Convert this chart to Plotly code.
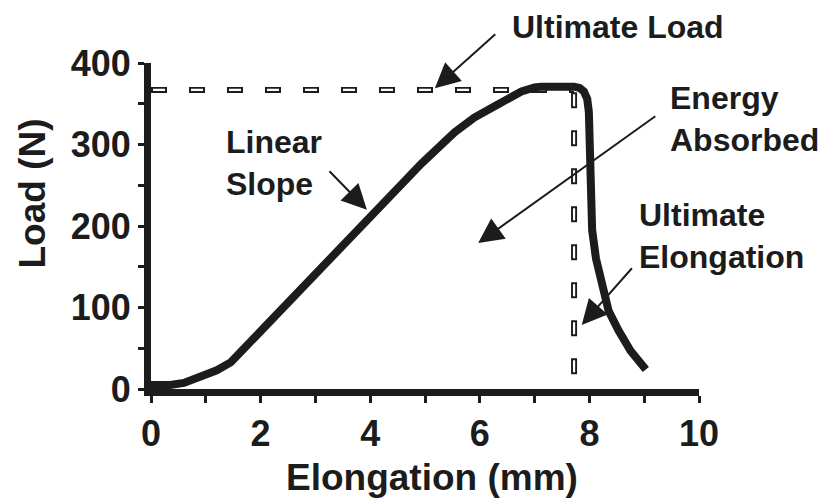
import plotly.graph_objects as go

# ---- data ----
elongation_mm = [0, 0.35, 0.6, 0.9, 1.2, 1.46, 2.58, 3.49, 4.58, 4.94, 5.54, 5.9, 6.27, 6.5,
                 6.76, 7.0, 7.12, 7.72, 7.82, 7.9, 7.96, 7.99, 8.0, 8.02, 8.05, 8.12, 8.25,
                 8.35, 8.53, 8.75, 9.03]
load_n = [5, 5, 7.5, 14, 23, 33, 112, 178, 254, 277, 315, 333, 347, 356,
          365, 370, 371, 371, 369.5, 365, 356, 340, 300, 230, 195, 160, 120,
          96, 72, 47, 24]
ultimate_load = 367
ultimate_elong = 7.72

x_ticks = [0, 2, 4, 6, 8, 10]
y_ticks = [0, 100, 200, 300, 400]

# annotation labels in data coords: (text, x, y)
labels = [
    ("Linear<br>Slope", 1.33, 277),
    ("Energy<br>Absorbed", 9.43, 331),
    ("Ultimate<br>Elongation", 8.87, 188),
]
# label above the plotting area, in paper coords: (text, x, y)
top_labels = [("Ultimate Load", 0.655, 1.11)]
# arrows: (tail_x, tail_y, tip_x, tip_y)
arrows = [
    (6.31, 437, 5.18, 369),
    (3.23, 269, 3.94, 220),
    (9.23, 336, 5.97, 179),
    (8.80, 150, 7.86, 78.5),
]

INK = "#1c1c1c"
FONT = "Liberation Sans, Arial, sans-serif"
ANN_SIZE = 32

fig = go.Figure()

# dashed reference lines drawn as outlined dashes (black dash + white core)
for xs, ys in [([0, ultimate_elong], [ultimate_load, ultimate_load]),
               ([ultimate_elong, ultimate_elong], [ultimate_load - 3, 0])]:
    fig.add_trace(go.Scatter(x=xs, y=ys, mode="lines",
                             line=dict(color=INK, width=6, dash="16px,22px"),
                             hoverinfo="skip", showlegend=False))
    fig.add_trace(go.Scatter(x=xs, y=ys, mode="lines",
                             line=dict(color="white", width=2.2, dash="0px,2px,12px,24px"),
                             hoverinfo="skip", showlegend=False))

# load-elongation curve
fig.add_trace(go.Scatter(x=elongation_mm, y=load_n, mode="lines",
                         line=dict(color=INK, width=8),
                         showlegend=False))

annotations = []
for text, x, y in labels:
    annotations.append(dict(text=text, x=x, y=y, xref="x", yref="y",
                            xanchor="left", yanchor="middle", align="left",
                            showarrow=False,
                            font=dict(family=FONT, size=ANN_SIZE, color=INK, weight="bold")))
for text, x, y in top_labels:
    annotations.append(dict(text=text, x=x, y=y, xref="paper", yref="paper",
                            xanchor="left", yanchor="middle", align="left",
                            showarrow=False,
                            font=dict(family=FONT, size=ANN_SIZE, color=INK, weight="bold")))
for tx, ty, hx, hy in arrows:
    annotations.append(dict(text="", x=hx, y=hy, ax=tx, ay=ty,
                            xref="x", yref="y", axref="x", ayref="y",
                            showarrow=True, arrowhead=2, arrowsize=2.5,
                            arrowwidth=2, arrowcolor=INK))
# axis titles
annotations.append(dict(text="Elongation (mm)", x=0.513, y=-0.273, xref="paper", yref="paper",
                        xanchor="center", yanchor="middle", showarrow=False,
                        font=dict(family=FONT, size=37, color=INK, weight="bold")))
annotations.append(dict(text="Load (N)", x=-0.217, y=0.60, xref="paper", yref="paper",
                        xanchor="center", yanchor="middle", showarrow=False, textangle=-90,
                        font=dict(family=FONT, size=37, color=INK, weight="bold")))

fig.update_layout(
    width=825, height=500,
    margin=dict(l=151, r=126, t=63, b=111),
    paper_bgcolor="white", plot_bgcolor="white",
    annotations=annotations,
    xaxis=dict(range=[0, 10], tickvals=x_ticks, ticktext=[str(v) for v in x_ticks],
               showline=True, linewidth=7, linecolor=INK,
               ticks="outside", ticklen=7, tickwidth=3, tickcolor=INK,
               minor=dict(dtick=1, tick0=0, ticks="outside", ticklen=7, tickwidth=3, tickcolor=INK),
               showgrid=False, zeroline=False,
               tickfont=dict(family=FONT, size=36, color=INK, weight="bold")),
    yaxis=dict(range=[0, 400], tickvals=y_ticks, ticktext=[str(v) for v in y_ticks],
               showline=True, linewidth=7, linecolor=INK,
               ticks="outside", ticklen=6, tickwidth=3, tickcolor=INK,
               minor=dict(dtick=50, tick0=0, ticks="outside", ticklen=6, tickwidth=3, tickcolor=INK),
               showgrid=False, zeroline=False,
               tickfont=dict(family=FONT, size=36, color=INK, weight="bold")),
)

fig.write_html("out.html")
